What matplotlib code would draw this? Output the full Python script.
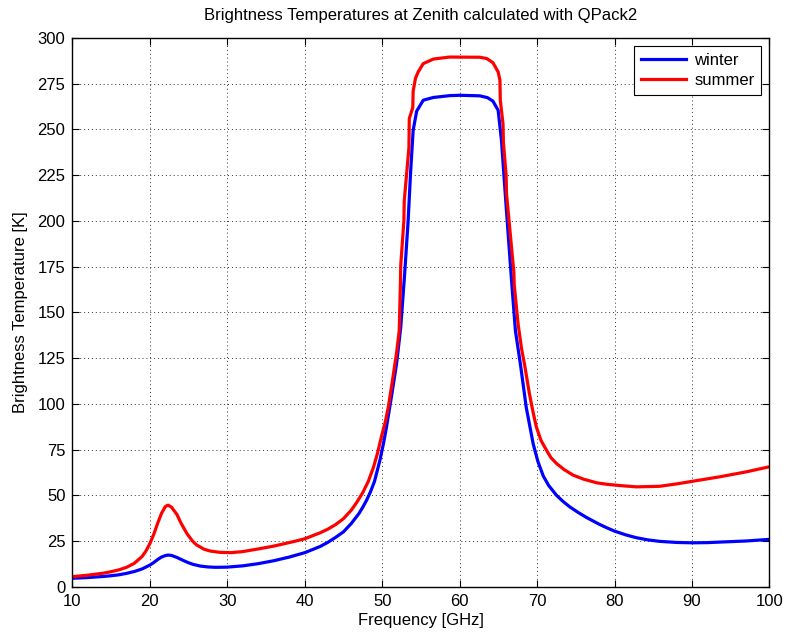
import numpy as np
import matplotlib
matplotlib.use("Agg")
import matplotlib.pyplot as plt

plt.rcParams["font.family"] = ["Liberation Sans", "DejaVu Sans"]

# winter curve
freq_winter = [10, 12, 14, 15, 16, 17, 18, 19, 20, 20.5, 21, 21.5, 22, 22.35, 22.8,
               23.5, 24, 24.5, 25, 25.6, 26.5, 27.5, 28.5, 30, 32, 34, 36, 38, 40,
               42, 43, 44, 45, 46, 47, 47.5, 48, 48.5, 49, 49.7, 50.2, 50.56, 51.2,
               51.86, 52.4, 52.9, 53.35, 53.66, 54.0, 54.45, 55.3, 56.6, 58.7, 60,
               62.6, 63.6, 64.3, 64.97, 65.4, 65.8, 66.26, 66.7, 67.2, 67.9, 68.6, 69.5,
               70.1, 70.8, 71.5, 72.5, 73.3, 74.2, 75.3, 76.4, 77.2, 78, 79, 80, 81.4,
               82.8, 84.3, 85.8, 88, 90, 92, 93.6, 97, 100]
tb_winter = [4.6, 5.0, 5.6, 6.0, 6.5, 7.3, 8.3, 9.7, 11.8, 13.2, 14.8, 16.2, 17.0, 17.3, 17.1,
             16.0, 15.0, 14.0, 13.1, 12.2, 11.3, 10.8, 10.6, 10.7, 11.4, 12.6, 14.2, 16.2, 18.6,
             22.0, 24.3, 27.0, 30.0, 34.5, 40.0, 43.5, 47.4, 52.0, 57.5, 69.0, 79.0, 87.4, 104.0,
             122.0, 142.0, 171.0, 200.0, 226.0, 249.6, 260.0, 266.0, 267.5, 268.5, 268.7,
             268.4, 267.4, 265.5, 260.5, 244.0, 220.0, 193.0, 167.5, 140.0, 120.0, 98.0, 78.0,
             68.5, 60.5, 55.3, 50.0, 46.8, 43.7, 40.6, 37.8, 36.0, 34.2, 32.2, 30.4, 28.4,
             26.8, 25.6, 24.8, 24.2, 24.0, 24.1, 24.4, 25.0, 25.9]

# summer curve
freq_summer = [10, 12, 14, 15, 16, 17, 18, 19, 19.5, 20, 20.5, 21, 21.5, 22, 22.35, 22.8,
               23.5, 24, 24.8, 25.5, 26.05, 27, 27.8, 29, 30.5, 32, 34.2, 36, 38.5, 40,
               42, 43, 44, 45, 46, 46.7, 47.5, 48.2, 48.85, 49.4, 49.9, 50.4, 50.8, 51.4,
               51.86, 52.2, 52.35, 52.4, 52.8, 52.85, 53.45, 53.5, 53.95, 54.0, 54.3,
               54.65, 55.3, 56.6, 58.7, 62.6, 63.5, 64.3, 64.97, 65.2, 65.25, 65.6, 65.65,
               66.0, 66.05, 66.6, 67.0, 67.05, 67.55, 68.0, 68.4, 69.0, 69.5, 69.9,
               70.5, 71.2, 71.8, 72.5, 73.5, 74.65, 76, 77.7, 79, 80.7, 82.8, 85.8,
               88, 90, 93.6, 97, 100]
tb_summer = [5.5, 6.3, 7.4, 8.2, 9.2, 10.6, 12.8, 16.5, 19.5, 23.5, 28.5, 34.5, 40.0, 43.8, 44.6, 43.5,
             39.5, 35.0, 29.0, 25.0, 22.8, 20.5, 19.5, 18.8, 18.6, 19.2, 20.8, 22.2, 24.6, 26.2,
             29.5, 31.5, 34.0, 37.2, 41.8, 46.0, 51.5, 57.5, 65.0, 73.0, 82.0, 90.0, 98.4, 114.8,
             128.0, 140.0, 165.0, 176.0, 200.0, 211.0, 240.0, 256.0, 262.0, 271.0, 278.0,
             281.5, 286.0, 288.5, 289.6, 289.5, 288.8, 286.5, 281.5, 277.0, 266.0, 253.0, 243.0,
             225.0, 215.0, 190.0, 172.0, 165.0, 143.5, 130.0, 121.0, 105.7, 95.0, 87.4,
             80.0, 74.7, 70.5, 67.4, 64.0, 61.0, 58.8, 56.8, 56.0, 55.3, 54.6, 54.9,
             56.2, 57.6, 60.1, 62.8, 65.6]

fig = plt.figure(figsize=(7.88, 6.34), dpi=100)
ax = fig.add_axes([0.0918, 0.0746, 0.8847, 0.8654])

ax.plot(freq_winter, tb_winter, color="#0000ff", lw=2.3, label="winter")
ax.plot(freq_summer, tb_summer, color="#ff0000", lw=2.3, label="summer")

ax.set_xlim(10, 100)
ax.set_ylim(0, 300)
ax.set_xticks(np.arange(10, 101, 10))
ax.set_yticks(np.arange(0, 301, 25))
ax.tick_params(direction="in", top=True, right=True, length=5, width=0.8,
               labelsize=12, colors="black")
ax.tick_params(axis="x", pad=5)
ax.tick_params(axis="y", pad=5)
for s in ax.spines.values():
    s.set_linewidth(1.0)
ax.grid(True, linestyle=(0, (1, 3)), color="#333333", lw=0.7)

ax.set_title("Brightness Temperatures at Zenith calculated with QPack2", fontsize=12, pad=13)
ax.set_xlabel("Frequency [GHz]", fontsize=12, labelpad=3)
ax.set_ylabel("Brightness Temperature [K]", fontsize=12, labelpad=7)

leg = ax.legend(loc="upper right", fontsize=12, handlelength=2.7, fancybox=False,
                framealpha=1, edgecolor="black", borderaxespad=0.5,
                labelspacing=0.3, handletextpad=0.5, borderpad=0.4)
leg.get_frame().set_linewidth(0.8)

fig.savefig("out.png", dpi=100)
